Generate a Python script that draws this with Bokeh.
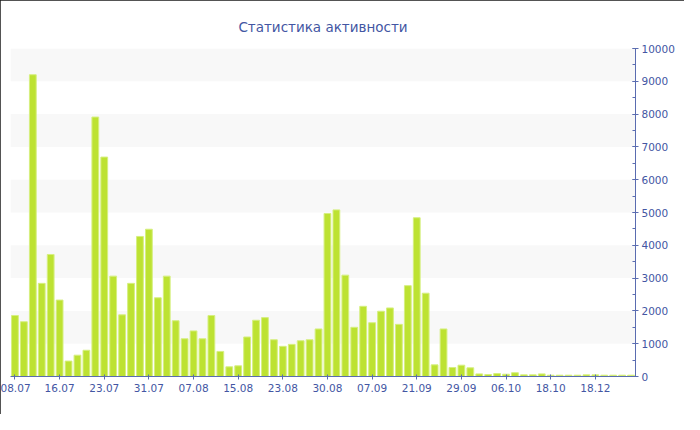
from bokeh.plotting import figure
from bokeh.models import ColumnDataSource, FixedTicker, SingleIntervalTicker, Range1d
from bokeh.embed import file_html
from bokeh.resources import INLINE

title_text = "Статистика активности"
tick_labels = ["08.07", "16.07", "23.07", "31.07", "07.08", "15.08", "23.08",
               "30.08", "07.09", "21.09", "29.09", "06.10", "18.10", "18.12"]
label_step = 5
values = [1860, 1670, 9200, 2840, 3720, 2330, 470, 650, 800, 7910,
          6690, 3060, 1880, 2840, 4270, 4490, 2400, 3060, 1700, 1150,
          1390, 1150, 1860, 765, 295, 325, 1205, 1715, 1795, 1120,
          920, 980, 1090, 1120, 1450, 4970, 5080, 3090, 1500, 2140,
          1640, 1990, 2090, 1590, 2770, 4840, 2540, 355, 1450, 275,
          345, 265, 80, 60, 90, 70, 115, 50, 50, 80,
          40, 40, 40, 40, 50, 50, 40, 40, 40, 40]

idx = list(range(len(values)))
src = ColumnDataSource(dict(x=idx, top=values))

TXT = "#4356a3"
AX = "#5a6cb0"
FONT = "DejaVu Sans"

p = figure(frame_width=625, frame_height=328, output_backend="svg", toolbar_location=None,
           x_range=Range1d(-0.5, len(values) - 0.5), y_range=Range1d(0, 10000),
           y_axis_location="right", min_border_left=10, min_border_right=49,
           min_border_top=48, min_border_bottom=38)
p.title.text = title_text
p.title.align = "center"
p.title.text_color = TXT
p.title.text_font = FONT
p.title.text_font_size = "13.5px"
p.title.text_font_style = "normal"
p.title.standoff = 28
p.outline_line_color = None
p.background_fill_color = "white"
p.border_fill_color = "white"
p.styles = {"outline": "2px solid #1a1a1a", "outline-offset": "-2px"}

p.vbar(x="x", top="top", width=0.76, source=src, fill_color="#bde232",
       line_color="#d6ef80", line_width=1)

p.xgrid.grid_line_color = None
p.ygrid.grid_line_color = None
p.ygrid.band_fill_color = "#f8f8f8"
p.ygrid.band_fill_alpha = 1.0

xa = p.xaxis[0]
xa.ticker = FixedTicker(ticks=[i * label_step for i in range(len(tick_labels))])
xa.major_label_overrides = {i * label_step: t for i, t in enumerate(tick_labels)}
xa.axis_line_color = AX
xa.major_tick_line_color = AX
xa.major_tick_in = 2
xa.major_tick_out = 3
xa.minor_tick_line_color = None
xa.major_label_text_color = TXT
xa.major_label_text_font = FONT
xa.major_label_text_font_size = "10.5px"
xa.major_label_standoff = 4

ya = p.yaxis[0]
ya.ticker = SingleIntervalTicker(interval=1000, num_minor_ticks=2)
ya.axis_line_color = AX
ya.major_tick_line_color = AX
ya.minor_tick_line_color = AX
ya.major_tick_in = 3
ya.major_tick_out = 3
ya.minor_tick_in = 3
ya.minor_tick_out = 0
ya.major_label_text_color = TXT
ya.major_label_text_font = FONT
ya.major_label_text_font_size = "10.5px"
ya.major_label_standoff = 3

open("out.html", "w").write(file_html(p, INLINE))
